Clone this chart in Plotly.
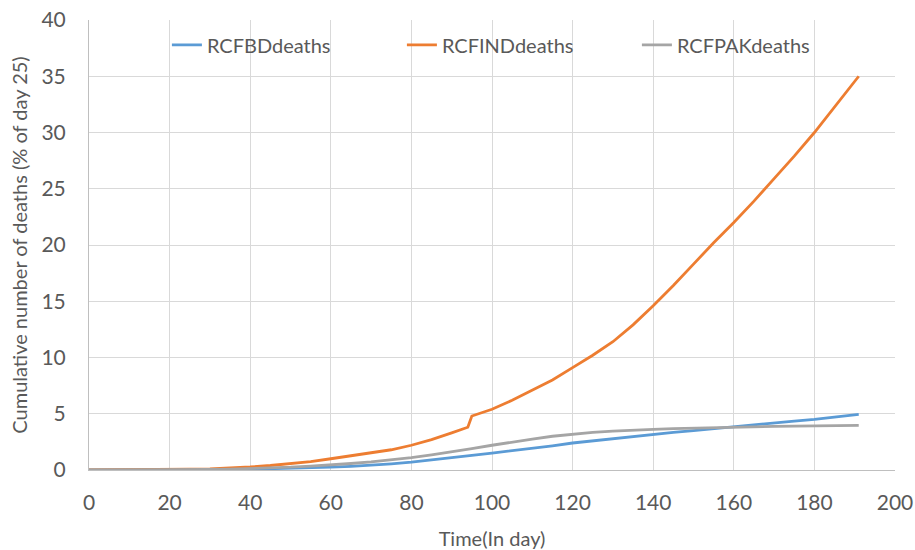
import plotly.graph_objects as go

days = [0, 5, 10, 15, 20, 25, 30, 35, 40, 45, 50, 55, 60, 65, 70, 75, 80, 85, 90, 94, 95,
        100, 105, 110, 115, 120, 125, 130, 135, 140, 145, 150, 155, 160, 165, 170, 175,
        180, 185, 191]

bd_deaths = [0.0, 0.0, 0.0, 0.01, 0.01, 0.01, 0.02, 0.04, 0.07, 0.1, 0.14, 0.19, 0.25, 0.33,
             0.42, 0.55, 0.7, 0.88, 1.08, 1.25, 1.3, 1.5, 1.7, 1.9, 2.15, 2.4, 2.6, 2.8, 3.0,
             3.17, 3.35, 3.5, 3.68, 3.85, 4.05, 4.2, 4.35, 4.5, 4.7, 4.95]

ind_deaths = [0.02, 0.02, 0.03, 0.04, 0.05, 0.07, 0.1, 0.17, 0.27, 0.4, 0.55, 0.75, 1.0, 1.25,
              1.5, 1.8, 2.2, 2.7, 3.3, 3.8, 4.8, 5.4, 6.2, 7.1, 8.0, 9.1, 10.2, 11.4, 12.9,
              14.6, 16.4, 18.3, 20.2, 22.0, 23.9, 25.9, 27.9, 30.0, 32.3, 35.0]

pak_deaths = [0.0, 0.0, 0.01, 0.01, 0.02, 0.03, 0.05, 0.08, 0.12, 0.18, 0.25, 0.35, 0.45, 0.58,
              0.72, 0.9, 1.1, 1.35, 1.6, 1.85, 1.9, 2.2, 2.5, 2.75, 3.0, 3.2, 3.35, 3.45, 3.55,
              3.62, 3.68, 3.73, 3.77, 3.8, 3.85, 3.88, 3.9, 3.93, 3.95, 3.97]

series_names = ["RCFBDdeaths", "RCFINDdeaths", "RCFPAKdeaths"]
colors = ["#5B9BD5", "#ED7D31", "#A5A5A5"]

x_ticks = [0, 20, 40, 60, 80, 100, 120, 140, 160, 180, 200]
y_ticks = [0, 5, 10, 15, 20, 25, 30, 35, 40]

FONT = "Lato, 'Open Sans', sans-serif"
TXT = "#595959"

fig = go.Figure()
for name, vals, col in zip(series_names, [bd_deaths, ind_deaths, pak_deaths], colors):
    fig.add_trace(go.Scatter(x=days, y=vals, mode="lines", name=name,
                             line=dict(color=col, width=2.8)))

fig.update_layout(
    width=915, height=550,
    margin=dict(l=89, r=20, t=20, b=80, autoexpand=False),
    paper_bgcolor="white", plot_bgcolor="white",
    font=dict(family=FONT, color=TXT),
    showlegend=True,
    legend=dict(orientation="h", x=0.534, xanchor="center", y=0.988, yanchor="top",
                font=dict(size=20, color=TXT), bgcolor="rgba(0,0,0,0)",
                entrywidth=190, entrywidthmode="pixels", tracegroupgap=0),
    xaxis=dict(range=[0, 200], tickvals=x_ticks, showgrid=True, gridcolor="#D9D9D9",
               gridwidth=1, zeroline=False, showline=True, linecolor="#BFBFBF",
               automargin=False,
               ticks="", ticklabelstandoff=14, tickfont=dict(size=21, color=TXT),
               title=dict(text="Time(In day)", font=dict(size=20, color=TXT), standoff=18)),
    yaxis=dict(range=[0, 40], tickvals=y_ticks, showgrid=True, gridcolor="#D9D9D9",
               gridwidth=1, zeroline=False, showline=True, linecolor="#BFBFBF",
               automargin=False,
               ticks="", ticklabelstandoff=18, tickfont=dict(size=21, color=TXT),
               title=dict(text="Cumulative number of deaths (% of day 25)",
                          font=dict(size=20, color=TXT), standoff=8)),
)

fig.write_html("out.html")
